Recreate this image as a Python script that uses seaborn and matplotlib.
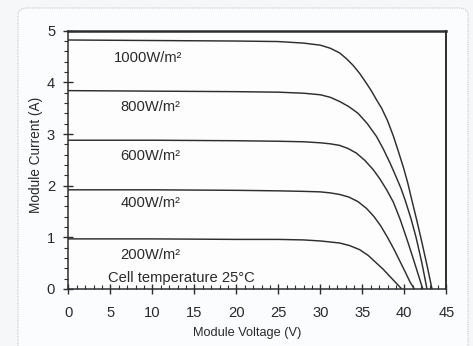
import numpy as np
import pandas as pd
import seaborn as sns
import matplotlib
matplotlib.use("Agg")
import matplotlib.pyplot as plt
from matplotlib.patches import FancyBboxPatch
from matplotlib.ticker import MultipleLocator

# I-V curves of the module at five irradiance levels (cell temperature 25 °C)
irradiance_labels = ["1000W/m²", "800W/m²", "600W/m²", "400W/m²", "200W/m²"]

v_1000 = [0, 10, 20, 25, 28, 30, 31.2, 32.3, 33.1, 33.9, 34.7, 35.5, 36.1, 36.7, 37.3,
          38.0, 38.7, 39.3, 39.9, 40.4, 40.9, 41.5, 42.1, 42.7, 43.3]
i_1000 = [4.82, 4.81, 4.80, 4.79, 4.76, 4.72, 4.66, 4.57, 4.46, 4.33, 4.17, 3.98, 3.83, 3.66, 3.50,
          3.26, 2.96, 2.66, 2.35, 2.06, 1.72, 1.32, 0.90, 0.46, 0.0]

v_800 = [0, 10, 20, 25, 28, 30, 31.2, 32.3, 33.4, 34.5, 35.6, 36.7, 37.5, 38.3, 39.0,
         39.6, 40.1, 40.8, 41.4, 42.1, 42.7]
i_800 = [3.84, 3.83, 3.82, 3.81, 3.79, 3.76, 3.71, 3.63, 3.53, 3.40, 3.20, 2.95, 2.71, 2.44, 2.18,
         1.95, 1.72, 1.36, 1.00, 0.50, 0.0]

v_600 = [0, 10, 20, 25, 28, 30, 31.2, 32.3, 33.3, 34.3, 35.3, 36.3, 37.1, 37.9, 38.7,
         39.5, 40.3, 41.0, 41.6, 42.2]
i_600 = [2.88, 2.88, 2.87, 2.86, 2.85, 2.83, 2.81, 2.78, 2.72, 2.63, 2.49, 2.31, 2.13, 1.92, 1.68,
         1.35, 0.97, 0.62, 0.31, 0.0]

v_400 = [0, 10, 20, 25, 28, 30, 31.2, 32.3, 33.4, 34.5, 35.5, 36.4, 37.2, 38.0, 38.8,
         39.5, 40.2, 40.7, 41.2]
i_400 = [1.92, 1.92, 1.91, 1.90, 1.89, 1.88, 1.86, 1.83, 1.78, 1.69, 1.56, 1.40, 1.22, 1.00, 0.76,
         0.53, 0.30, 0.13, 0.0]

v_200 = [0, 10, 20, 25, 28, 30, 31.2, 32.3, 33.5, 34.7, 35.7, 36.7, 37.5, 38.3, 39.0, 39.7]
i_200 = [0.97, 0.97, 0.96, 0.96, 0.95, 0.93, 0.91, 0.89, 0.84, 0.76, 0.65, 0.50, 0.38, 0.24, 0.12, 0.0]

# label anchor (voltage, current) for each irradiance curve
label_v = [9.5, 9.8, 9.8, 9.8, 9.8]
label_i = [4.47, 3.52, 2.58, 1.66, 0.66]

frames = []
for name, v, i in zip(irradiance_labels,
                      [v_1000, v_800, v_600, v_400, v_200],
                      [i_1000, i_800, i_600, i_400, i_200]):
    frames.append(pd.DataFrame({"voltage": v, "current": i, "irradiance": name}))
df = pd.concat(frames, ignore_index=True)

sns.set_theme(style="white")
plt.rcParams["font.family"] = ["Liberation Sans", "DejaVu Sans"]

text_color = "#2a2a2a"
line_color = "#2e2e2e"
fs = 10.6

fig = plt.figure(figsize=(4.73, 3.46), dpi=100, facecolor="#f5f7f9")

# rounded card behind the chart
card = FancyBboxPatch((18 / 473, -0.05), 450 / 473, 1 - 8 / 346 + 0.05,
                      boxstyle="round,pad=0,rounding_size=0.02",
                      transform=fig.transFigure, facecolor="#fbfcfd",
                      edgecolor="#c4c6c8", linewidth=0.8, linestyle=(0, (1, 1)),
                      zorder=-10)
fig.patches.append(card)

ax = fig.add_axes([68.3 / 473, 1 - 289 / 346, 378 / 473, (289 - 30.7) / 346])
ax.set_zorder(1)
ax.set_facecolor("#fdfdfe")

sns.lineplot(data=df, x="voltage", y="current", hue="irradiance",
             palette=[line_color] * len(irradiance_labels), estimator=None,
             sort=False, linewidth=1.05, legend=False, ax=ax)

for name, lv, li in zip(irradiance_labels, label_v, label_i):
    ax.text(lv, li, name, ha="center", va="center", fontsize=fs, color=text_color)
ax.text(4.75, 0.21, "Cell temperature 25°C", ha="left", va="center",
        fontsize=fs, color=text_color)

ax.set_xlim(0, 45)
ax.set_ylim(0, 5)
ax.xaxis.set_major_locator(MultipleLocator(5))
ax.xaxis.set_minor_locator(MultipleLocator(1))
ax.yaxis.set_major_locator(MultipleLocator(1))
ax.yaxis.set_minor_locator(MultipleLocator(0.2))

ax.tick_params(axis="both", which="major", direction="inout", length=7, width=1.0,
               color=line_color, labelsize=fs, labelcolor=text_color, pad=5)
ax.tick_params(axis="x", which="major", bottom=True, pad=9)
ax.tick_params(axis="y", which="major", left=True, pad=6)
ax.tick_params(axis="x", which="minor", bottom=True, direction="in", length=3,
               width=0.8, color=line_color)
ax.tick_params(axis="y", which="minor", left=True, direction="out", length=3,
               width=0.8, color=line_color)

for side, spine in ax.spines.items():
    spine.set_visible(True)
    spine.set_color(line_color)
    spine.set_linewidth(1.1)
ax.spines["top"].set_linewidth(1.8)
ax.spines["right"].set_linewidth(1.4)

ax.set_xlabel("Module Voltage (V)", fontsize=9.2, color=text_color)
ax.set_ylabel("Module Current (A)", fontsize=9.8, color=text_color)
ax.xaxis.set_label_coords(0.474, -0.146)
ax.yaxis.set_label_coords(-0.067, 0.519)

fig.savefig("out.png", dpi=100, facecolor=fig.get_facecolor())
